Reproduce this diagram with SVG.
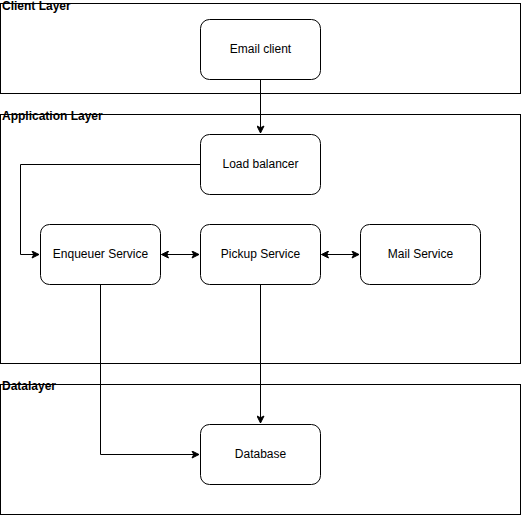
<svg xmlns="http://www.w3.org/2000/svg" width="521" height="516" viewBox="0 0 521 516">
<style>
.layer{fill:#fff;stroke:#000;stroke-width:1}
.lt{font-family:"Liberation Sans",Arial,sans-serif;font-size:12px;font-weight:bold;fill:#000}
.node rect{fill:#fff;stroke:#000;stroke-width:1}
.node text{font-family:"Liberation Sans",Arial,sans-serif;font-size:12px;fill:#000;text-anchor:middle;dominant-baseline:central}
.edge{fill:none;stroke:#000;stroke-width:1}
</style>
<defs>
<marker id="arr" viewBox="-8 -4 9 8" refX="0" refY="0" markerWidth="9" markerHeight="8" markerUnits="userSpaceOnUse" orient="auto-start-reverse">
<path d="M-7,-3.5 L0,0 L-7,3.5 L-5.25,0 Z" fill="#000" stroke="#000" stroke-width="1"/>
</marker>
</defs>
<rect width="521" height="516" fill="#fff"/>
<g id="client-layer"><rect class="layer" x="0.5" y="3.5" width="520" height="90"/><text class="lt" x="2" y="10">Client Layer</text></g>
<g id="application-layer"><rect class="layer" x="0.5" y="114.5" width="520" height="249"/><text class="lt" x="2" y="120">Application Layer</text></g>
<g id="data-layer"><rect class="layer" x="0.5" y="384.5" width="520" height="130"/><text class="lt" x="2" y="390">Datalayer</text></g>
<g id="connectors">
<path class="edge" d="M260.5,79.5 V133" marker-end="url(#arr)"/>
<path class="edge" d="M200.5,164.5 H20.5 V254.5 H39" marker-end="url(#arr)"/>
<path class="edge" d="M161.5,254.5 H199" marker-start="url(#arr)" marker-end="url(#arr)"/>
<path class="edge" d="M321.5,254.5 H359" marker-start="url(#arr)" marker-end="url(#arr)"/>
<path class="edge" d="M260.5,284.5 V423" marker-end="url(#arr)"/>
<path class="edge" d="M100.5,284.5 V454.5 H199" marker-end="url(#arr)"/>
</g>
<g id="email-client" class="node"><rect x="200.5" y="19.5" width="120" height="60" rx="9"/><text x="260.5" y="48.5">Email client</text></g>
<g id="load-balancer" class="node"><rect x="200.5" y="134.5" width="120" height="60" rx="9"/><text x="260.5" y="163.5">Load balancer</text></g>
<g id="enqueuer-service" class="node"><rect x="40.5" y="224.5" width="120" height="60" rx="9"/><text x="100.5" y="253.5">Enqueuer Service</text></g>
<g id="pickup-service" class="node"><rect x="200.5" y="224.5" width="120" height="60" rx="9"/><text x="260.5" y="253.5">Pickup Service</text></g>
<g id="mail-service" class="node"><rect x="360.5" y="224.5" width="120" height="60" rx="9"/><text x="420.5" y="253.5">Mail Service</text></g>
<g id="database" class="node"><rect x="200.5" y="424.5" width="120" height="60" rx="9"/><text x="260.5" y="453.5">Database</text></g>
</svg>
